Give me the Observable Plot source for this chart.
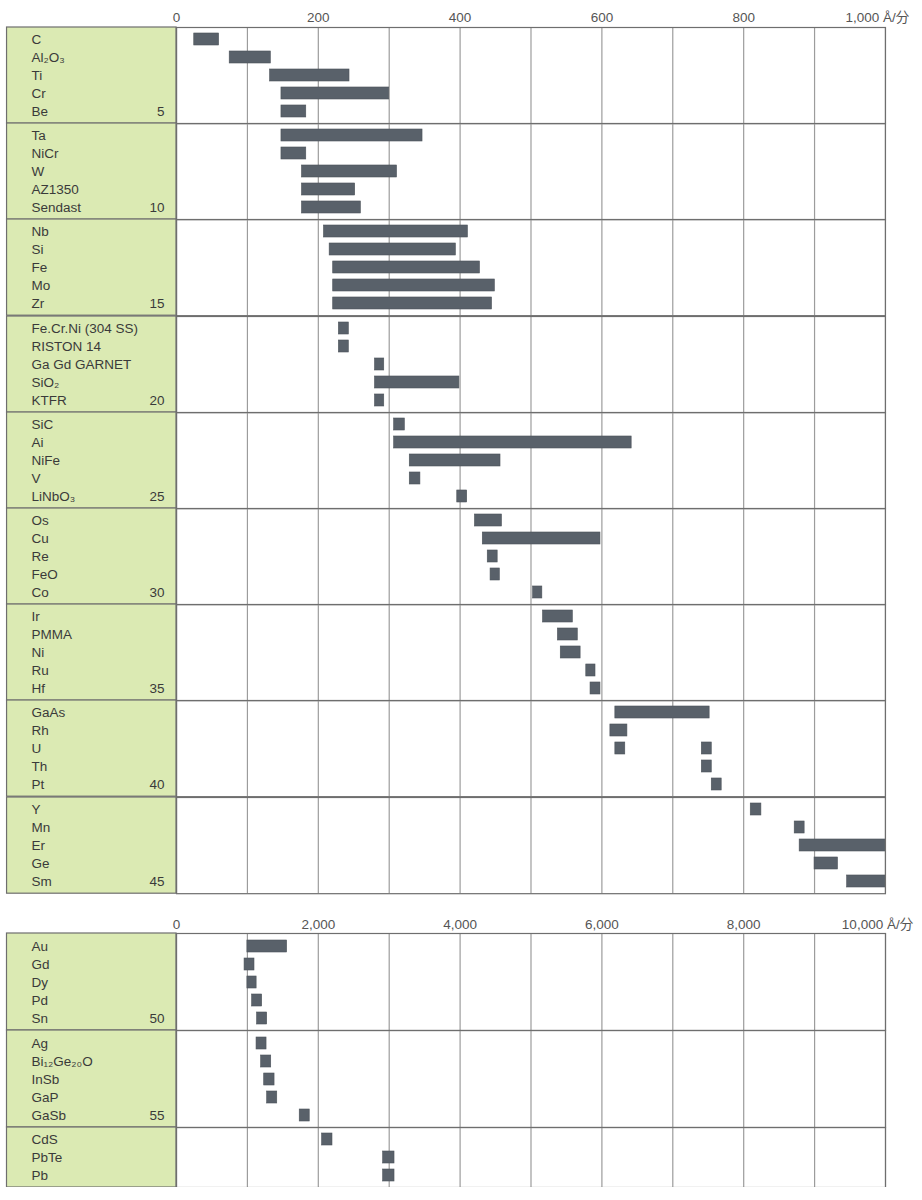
<!DOCTYPE html>
<html>
<head>
<meta charset="utf-8">
<script src="https://cdn.jsdelivr.net/npm/d3@7"></script>
<script src="https://cdn.jsdelivr.net/npm/@observablehq/plot@0.6"></script>
<style>
  body { margin: 0; background: #fff; }
  #chart svg { display: block; overflow: visible; }
  .spacer { height: 13px; }
</style>
</head>
<body>
<div id="chart"></div>
<script>
// ---- data ----
const materials = [
  "C", "Al₂O₃", "Ti", "Cr", "Be",
  "Ta", "NiCr", "W", "AZ1350", "Sendast",
  "Nb", "Si", "Fe", "Mo", "Zr",
  "Fe.Cr.Ni (304 SS)", "RISTON 14", "Ga Gd GARNET", "SiO₂", "KTFR",
  "SiC", "Ai", "NiFe", "V", "LiNbO₃",
  "Os", "Cu", "Re", "FeO", "Co",
  "Ir", "PMMA", "Ni", "Ru", "Hf",
  "GaAs", "Rh", "U", "Th", "Pt",
  "Y", "Mn", "Er", "Ge", "Sm",
  "Au", "Gd", "Dy", "Pd", "Sn",
  "Ag", "Bi₁₂Ge₂₀O", "InSb", "GaP", "GaSb",
  "CdS", "PbTe", "Pb"
];
const groupSizes   = [5, 5, 5, 5, 5, 5, 5, 5, 5, 5, 5, 3];
const groupNumbers = [5, 10, 15, 20, 25, 30, 35, 40, 45, 50, 55, ""];
const groupPanel   = [0, 0, 0, 0, 0, 0, 0, 0, 0, 1, 1, 1];

// rate ranges (Å/分); "U" has two ranges
const segName = [
  "C", "Al₂O₃", "Ti", "Cr", "Be",
  "Ta", "NiCr", "W", "AZ1350", "Sendast",
  "Nb", "Si", "Fe", "Mo", "Zr",
  "Fe.Cr.Ni (304 SS)", "RISTON 14", "Ga Gd GARNET", "SiO₂", "KTFR",
  "SiC", "Ai", "NiFe", "V", "LiNbO₃",
  "Os", "Cu", "Re", "FeO", "Co",
  "Ir", "PMMA", "Ni", "Ru", "Hf",
  "GaAs", "Rh", "U", "U", "Th", "Pt",
  "Y", "Mn", "Er", "Ge", "Sm",
  "Au", "Gd", "Dy", "Pd", "Sn",
  "Ag", "Bi₁₂Ge₂₀O", "InSb", "GaP", "GaSb",
  "CdS", "PbTe", "Pb"
];
const segLow = [
  25, 75, 132, 148, 148,
  148, 148, 177, 177, 177,
  208, 216, 221, 221, 221,
  229, 229, 280, 280, 280,
  307, 307, 329, 329, 396,
  421, 432, 439, 443, 503,
  517, 538, 542, 578, 584,
  619, 612, 619, 741, 741, 755,
  810, 872, 879, 900, 946,
  1000, 960, 1000, 1067, 1137,
  1129, 1194, 1237, 1279, 1738,
  2054, 2915, 2915
];
const segHigh = [
  60, 133, 244, 300, 183,
  347, 183, 311, 252, 260,
  411, 394, 428, 449, 445,
  243, 243, 293, 399, 293,
  322, 642, 457, 344, 410,
  459, 598, 453, 456, 516,
  559, 566, 570, 591, 598,
  752, 636, 633, 755, 755, 769,
  825, 886, 1000, 933, 1000,
  1560, 1100, 1130, 1208, 1279,
  1270, 1336, 1383, 1421, 1879,
  2200, 3075, 3075
];

const panelMax       = [1000, 10000];
const panelTicks     = [[0, 200, 400, 600, 800], [0, 2000, 4000, 6000, 8000]];
const panelEndLabel  = ["1,000 Å/分", "10,000 Å/分"];
const panelGridStep  = [100, 1000];

// ---- build ----
const segments = segName.map((name, i) => ({name, lo: segLow[i], hi: segHigh[i]}));
const FONT = "'Liberation Sans', Arial, 'DejaVu Sans', 'Noto Sans CJK JP', sans-serif";
const GREEN = "#dbeab3";
const LINE = "#6e6e6e";
const GRID = "#9c9c9c";
const BAR = "#59616a";

const greenColumn = (index, scales, values, dims) => {
  const g = d3.create("svg:g");
  g.append("rect")
    .attr("x", 6.5)
    .attr("y", dims.marginTop)
    .attr("width", dims.marginLeft - 6.5)
    .attr("height", dims.height - dims.marginTop - dims.marginBottom)
    .attr("fill", GREEN)
    .attr("stroke", LINE)
    .attr("stroke-width", 1.2);
  return g.node();
};

const groupHeights = [96.2, 96.2, 96.2, 96.2, 96.2, 96.2, 96.2, 96.2, 96.2, 97, 97, 60];

const container = document.getElementById("chart");
let start = 0;
let prevPanel = -1;
groupSizes.forEach((size, gi) => {
  const names = materials.slice(start, start + size);
  start += size;
  const panel = groupPanel[gi];
  const first = panel !== prevPanel;
  if (first && prevPanel !== -1) {
    const sp = document.createElement("div");
    sp.className = "spacer";
    container.appendChild(sp);
  }
  prevPanel = panel;
  const max = panelMax[panel];
  const mt = first ? 27 : 0;
  const grid = d3.range(0, max + 1, panelGridStep[panel]);
  const segs = segments.filter(d => names.includes(d.name));
  const num = groupNumbers[gi];

  const chart = Plot.plot({
    width: 922,
    height: mt + groupHeights[gi],
    marginTop: mt,
    marginLeft: 176,
    marginRight: 37,
    marginBottom: 0,
    x: {domain: [0, max], axis: null},
    y: {domain: names, axis: null, paddingInner: 1 / 3, paddingOuter: 1 / 3},
    style: {fontFamily: FONT, fontSize: "13.5px", overflow: "visible", background: "transparent"},
    marks: [
      greenColumn,
      Plot.ruleX(grid, {x: d => d, stroke: GRID, strokeWidth: 1.2}),
      Plot.barX(segs, {x1: "lo", x2: "hi", y: "name", fill: BAR, stroke: "#4c535a", strokeWidth: 0.6}),
      Plot.frame({stroke: LINE, strokeWidth: 1.2}),
      Plot.text(names, {y: d => d, text: d => d, frameAnchor: "left", dx: -145, textAnchor: "start", fill: "#3a3a3a"}),
      num !== "" ? Plot.text([num], {y: () => names[names.length - 1], text: d => String(d), frameAnchor: "left", dx: -12, textAnchor: "end", fill: "#3a3a3a"}) : null,
      first ? Plot.axisX({anchor: "top", ticks: panelTicks[panel], tickSize: 0, tickPadding: 5, tickFormat: d3.format(","), color: "#555", fill: "#555"}) : null,
      first ? Plot.text([max], {x: d => d, text: () => panelEndLabel[panel], frameAnchor: "top", lineAnchor: "bottom", dy: -5, dx: -8, fill: "#555"}) : null
    ]
  });
  container.appendChild(chart);
});
</script>
</body>
</html>
